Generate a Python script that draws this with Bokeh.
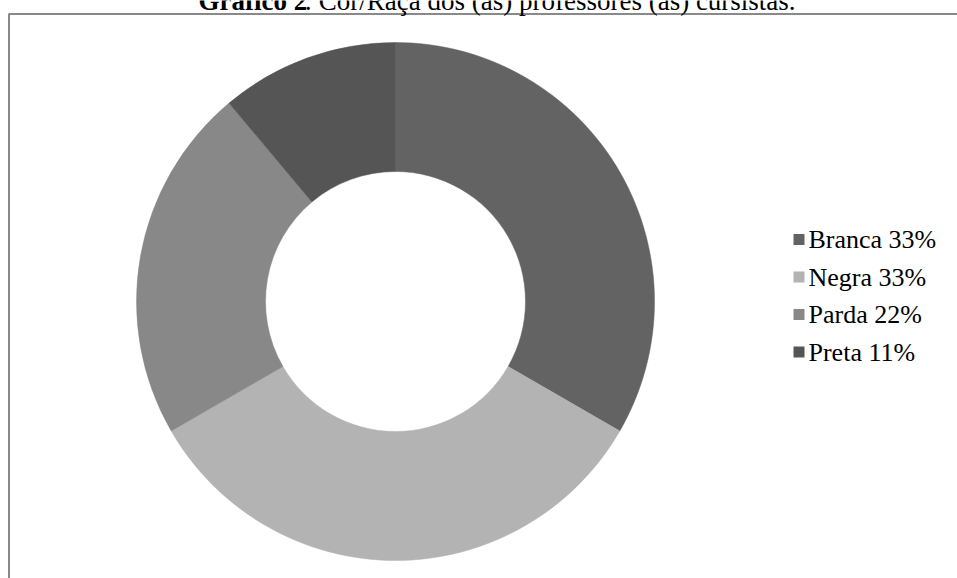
import math
from bokeh.plotting import figure
from bokeh.models import Range1d, ColumnDataSource
from bokeh.core.properties import value
from bokeh.embed import file_html
from bokeh.resources import INLINE

# Data
categories = ["Branca", "Negra", "Parda", "Preta"]
percents = [33, 33, 22, 11]
colors = ["#636363", "#b3b3b3", "#888888", "#555555"]
legend_labels = [f"{c} {v}%" for c, v in zip(categories, percents)]
title_bold = "Gráfico 2"
title_rest = ": Cor/Raça dos (as) professores (as) cursistas."

W, H = 957, 578
p = figure(width=W, height=H, x_range=Range1d(0, W), y_range=Range1d(0, H),
           output_backend="svg", toolbar_location=None, min_border=0)
p.axis.visible = False
p.grid.visible = False
p.outline_line_color = None
p.background_fill_color = "white"
p.border_fill_color = "white"

# Frame border (top and left visible)
p.line(x=[8.5, 8.5, W + 10], y=[-10, H - 13.5, H - 13.5], line_color="#898989", line_width=2)

# Donut
total = sum(percents)
starts, ends = [], []
a = math.pi / 2
for v in percents:
    starts.append(a)
    a -= 2 * math.pi * v / total
    ends.append(a)
cx, cy = 395, H - 301
src = ColumnDataSource(dict(start=starts, end=ends, color=colors))
p.annular_wedge(x=cx, y=cy, inner_radius=130, outer_radius=259,
                start_angle="start", end_angle="end", direction="clock",
                fill_color="color", line_color="color", line_width=0.5, source=src)

# Legend
ly0 = H - 239
step = 37.5
lys = [ly0 - i * step for i in range(len(categories))]
lsrc = ColumnDataSource(dict(x=[798.5] * 4, y=lys, color=colors, tx=[808] * 4, label=legend_labels))
p.rect(x="x", y="y", width=11, height=11, fill_color="color", line_color=None, source=lsrc)
p.text(x="tx", y="y", text="label", text_font=value("Liberation Serif"), text_font_size="26px",
       text_baseline="middle", text_align="left", text_color="#000000", source=lsrc)

# Title
tx0 = 198
p.text(x=[tx0], y=[H - 0.5], text=[title_bold], text_font=value("Liberation Serif"),
       text_font_size="27px", text_font_style="bold", text_baseline="alphabetic", text_align="left")
p.text(x=[tx0 + 106], y=[H - 0.5], text=[title_rest], text_font=value("Liberation Serif"),
       text_font_size="27px", text_baseline="alphabetic", text_align="left")

open("out.html", "w").write(file_html(p, INLINE))
